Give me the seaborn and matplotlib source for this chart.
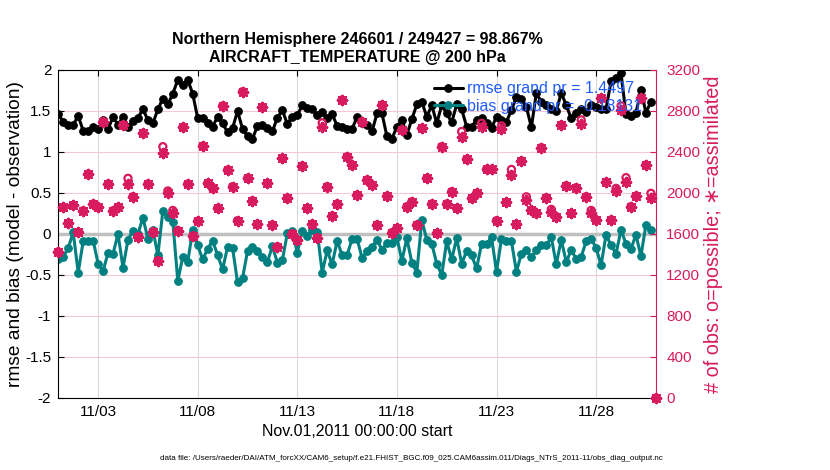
import numpy as np
import pandas as pd
import matplotlib
matplotlib.use("Agg")
import matplotlib.pyplot as plt
import seaborn as sns

# ---------------- data ----------------
# 6-hourly bins, 2011-11-01 00Z .. 2011-12-01 00Z (last bin is empty)
times = pd.date_range("2011-11-01 00:00", "2011-12-01 00:00", freq="6h")

rmse = [1.46, 1.37, 1.33, 1.33, 1.44, 1.26, 1.26, 1.30, 1.28, 1.39,
        1.28, 1.43, 1.33, 1.43, 1.30, 1.38, 1.42, 1.52, 1.39, 1.35,
        1.52, 1.65, 1.58, 1.71, 1.88, 1.82, 1.88, 1.71, 1.41, 1.41,
        1.35, 1.31, 1.43, 1.35, 1.24, 1.29, 1.50, 1.28, 1.19, 1.16,
        1.32, 1.33, 1.29, 1.25, 1.42, 1.51, 1.34, 1.43, 1.45, 1.57,
        1.54, 1.52, 1.45, 1.49, 1.41, 1.46, 1.32, 1.30, 1.28, 1.28,
        1.43, 1.35, 1.33, 1.25, 1.47, 1.47, 1.19, 1.16, 1.31, 1.39,
        1.21, 1.40, 1.58, 1.61, 1.43, 1.57, 1.35, 1.57, 1.47, 1.36,
        1.58, 1.52, 1.31, 1.31, 1.39, 1.41, 1.35, 1.29, 1.43, 1.39,
        1.37, 1.51, 1.67, 1.65, 1.55, 1.30, 1.72, 1.61, 1.57, 1.53,
        1.50, 1.72, 1.57, 1.41, 1.48, 1.52, 1.49, 1.57, 1.55, 1.53,
        1.53, 1.86, 1.90, 1.96, 1.46, 1.44, 1.47, 1.76, 1.48, 1.61,
        np.nan]

bias = [-0.30, -0.28, -0.17, 0.02, -0.47, -0.09, -0.08, -0.08, -0.36, -0.45,
        -0.23, -0.24, 0.00, -0.41, -0.07, 0.04, 0.00, 0.20, -0.06, 0.05,
        -0.26, 0.28, 0.21, 0.15, -0.57, -0.28, -0.34, 0.05, -0.14, -0.31,
        -0.18, -0.08, -0.26, -0.43, -0.16, -0.17, -0.59, -0.54, -0.21, -0.16,
        -0.21, -0.28, -0.34, -0.15, -0.35, -0.32, 0.01, 0.04, -0.23, 0.04,
        -0.02, 0.05, 0.03, -0.47, -0.20, -0.37, -0.08, -0.26, -0.26, -0.06,
        -0.06, -0.29, -0.21, -0.16, -0.07, -0.19, -0.11, -0.11, -0.04, -0.33,
        -0.05, -0.35, -0.47, 0.17, -0.07, -0.12, -0.36, -0.50, -0.09, -0.31,
        -0.05, -0.36, -0.21, -0.26, -0.42, -0.12, -0.12, -0.04, -0.46, -0.06,
        -0.09, -0.09, -0.46, -0.24, -0.20, -0.28, -0.20, -0.14, -0.14, -0.04,
        -0.37, -0.07, -0.34, -0.20, -0.30, -0.28, -0.09, -0.06, -0.17, -0.38,
        -0.01, -0.14, -0.24, 0.05, -0.12, -0.18, -0.01, -0.27, 0.11, 0.05,
        np.nan]

n_possible = [1427, 1860, 1704, 1880, 1617, 1827, 2185, 1893, 1860, 2696,
              2088, 1827, 1860, 2663, 2143, 1964, 1574, 2582, 2088, 1620,
              1339, 2452, 2020, 1830, 1634, 2641, 2088, 1578, 1725, 2458,
              2094, 2046, 1850, 2849, 2224, 2062, 1730, 2988, 2143, 1925,
              1697, 2836, 2094, 1688, 1476, 2338, 1948, 1600, 1541, 2263,
              1850, 1697, 1558, 2685, 2062, 1776, 1893, 2907, 2354, 2273,
              1980, 2696, 2127, 2078, 1688, 2858, 1970, 1613, 1656, 2615,
              1867, 1915, 1688, 2631, 2143, 1893, 1606, 2452, 1893, 2013,
              1850, 2600, 2329, 1948, 1997, 2680, 2231, 2231, 1730, 2655,
              1910, 2230, 1695, 2312, 1963, 1834, 1802, 2442, 1954, 1840,
              1769, 2663, 2071, 1802, 2052, 2713, 1964, 1830, 1737, 2924,
              2104, 1737, 2045, 2850, 2150, 1867, 1970, 2924, 2273, 1997,
              0]

n_assim = [1427, 1860, 1704, 1880, 1617, 1827, 2185, 1893, 1860, 2696,
           2088, 1827, 1860, 2663, 2088, 1964, 1574, 2582, 2088, 1620,
           1339, 2387, 1997, 1802, 1634, 2641, 2088, 1578, 1725, 2458,
           2094, 2046, 1850, 2849, 2224, 2062, 1730, 2988, 2143, 1925,
           1697, 2836, 2094, 1688, 1476, 2338, 1948, 1600, 1541, 2263,
           1850, 1697, 1558, 2647, 2062, 1776, 1893, 2907, 2354, 2273,
           1980, 2696, 2127, 2078, 1688, 2858, 1970, 1613, 1656, 2615,
           1867, 1915, 1688, 2631, 2143, 1893, 1606, 2452, 1893, 2013,
           1850, 2549, 2329, 1948, 1997, 2641, 2231, 2231, 1730, 2621,
           1910, 2180, 1695, 2312, 1932, 1834, 1802, 2442, 1954, 1818,
           1769, 2663, 2071, 1802, 2052, 2670, 1964, 1802, 1737, 2924,
           2104, 1737, 2020, 2810, 2110, 1867, 1970, 2924, 2273, 1948,
           0]

xtick_dates = ["2011-11-03", "2011-11-08", "2011-11-13", "2011-11-18", "2011-11-23", "2011-11-28"]
xtick_labels = ["11/03", "11/08", "11/13", "11/18", "11/23", "11/28"]
ytick_left = [-2, -1.5, -1, -0.5, 0, 0.5, 1, 1.5, 2]
ytick_left_labels = ["-2", "-1.5", "-1", "-0.5", "0", "0.5", "1", "1.5", "2"]
ytick_right = [0, 400, 800, 1200, 1600, 2000, 2400, 2800, 3200]

rmse_label = "rmse grand pr = 1.4497"
bias_label = "bias grand pr = -0.18131"
title = "Northern Hemisphere 246601 / 249427 = 98.867%\nAIRCRAFT_TEMPERATURE @ 200 hPa"
footer = ("data file: /Users/raeder/DAI/ATM_forcXX/CAM6_setup/f.e21.FHIST_BGC.f09_025."
          "CAM6assim.011/Diags_NTrS_2011-11/obs_diag_output.nc")

df = pd.DataFrame({"time": times, "rmse": rmse, "bias": bias,
                   "possible": n_possible, "assimilated": n_assim})

# ---------------- style ----------------
MAG = "#d81b5e"
TEAL = "#008080"
BLUE = "#1f5cff"

sns.set_style("white")
plt.rcParams["font.family"] = ["Liberation Sans", "DejaVu Sans"]
plt.rcParams["axes.unicode_minus"] = False
plt.rcParams["text.color"] = "black"
plt.rcParams["axes.labelcolor"] = "black"

fig = plt.figure(figsize=(8.3, 4.7), dpi=100)
ax = fig.add_axes([0.0702, 0.1532, 0.7200, 0.6979])
ax2 = ax.twinx()

# grid + zero line on the left axis
ax.xaxis.grid(True, color="#d9d9d9", linewidth=0.8)
ax.yaxis.grid(True, color="#f3c8d6", linewidth=0.8)
ax.set_axisbelow(True)
ax.axhline(0, color="#c0c0c0", linewidth=2.5, zorder=1.5)

# rmse / bias lines
sns.lineplot(data=df, x="time", y="rmse", ax=ax, color="black", marker="o",
             markersize=5.5, markeredgecolor="black", linewidth=2.2,
             errorbar=None, label=rmse_label)
sns.lineplot(data=df, x="time", y="bias", ax=ax, color=TEAL, marker="o",
             markersize=5.5, markeredgecolor=TEAL, linewidth=2.2,
             errorbar=None, label=bias_label)

# observation counts on the right axis
sns.scatterplot(data=df, x="time", y="possible", ax=ax2, marker="o", s=26,
                facecolor="none", edgecolor=MAG, linewidth=1.6, clip_on=False)
sns.scatterplot(data=df, x="time", y="assimilated", ax=ax2, marker=(8, 2, 0),
                s=42, color=MAG, linewidth=1.9, clip_on=False)

# limits and ticks
ax.set_xlim(times[0], times[-1])
ax.set_ylim(-2, 2)
ax2.set_ylim(0, 3200)

ax.set_xticks(pd.to_datetime(xtick_dates))
ax.set_xticklabels(xtick_labels)
ax.set_yticks(ytick_left)
ax.set_yticklabels(ytick_left_labels)
ax2.set_yticks(ytick_right)
ax2.set_yticklabels([str(v) for v in ytick_right])

ax.tick_params(axis="both", direction="in", length=4, width=0.8,
               labelsize=11, top=True, right=False, colors="black")
ax.tick_params(axis="y", pad=5)
ax.tick_params(axis="x", pad=5)
ax2.tick_params(axis="y", direction="in", length=4, width=0.8,
                labelsize=11, colors=MAG, pad=7.5)

for side in ["left", "top", "bottom"]:
    ax.spines[side].set_color("black")
    ax.spines[side].set_linewidth(0.8)
    ax2.spines[side].set_visible(False)
ax.spines["right"].set_visible(False)
ax2.spines["right"].set_color(MAG)
ax2.spines["right"].set_linewidth(0.8)

# labels
ax.set_xlabel("Nov.01,2011 00:00:00 start", fontsize=11.5, labelpad=4)
ax.set_ylabel("rmse and bias (model - observation)", fontsize=13.8, labelpad=1)
ax2.set_ylabel("# of obs: o=possible; \u2217=assimilated", fontsize=14.3,
               color=MAG, labelpad=3)
ax.set_title(title, fontsize=11.5, fontweight="bold", pad=6, linespacing=1.2,
             color="black")

# legend (on top of the counts)
handles, labels = ax.get_legend_handles_labels()
if ax.get_legend() is not None:
    ax.get_legend().remove()
leg = ax2.legend(handles, labels, loc="upper left", bbox_to_anchor=(0.6286, 0.965),
                 frameon=False, fontsize=11.5, handlelength=1.8, handletextpad=0.25,
                 borderpad=0, borderaxespad=0, labelspacing=0.15)
for t in leg.get_texts():
    t.set_color(BLUE)

fig.text(0.496, 0.0255, footer, ha="center", va="center", fontsize=5.8)

fig.savefig("out.png", dpi=100)
